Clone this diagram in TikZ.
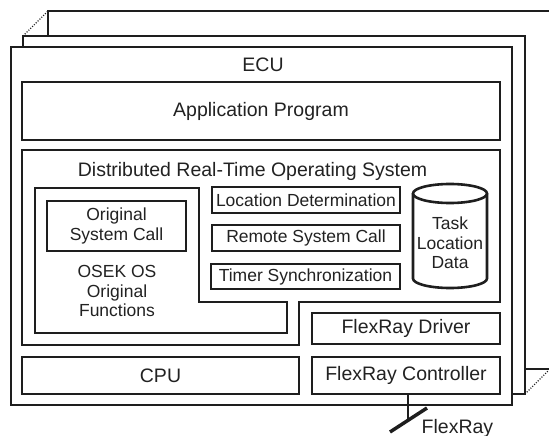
\documentclass[tikz,border=0pt]{standalone}
\usepackage{fontspec}
\setmainfont{Liberation Sans}
\definecolor{lc}{HTML}{1E1E1E}
\definecolor{tc}{HTML}{222222}
\begin{document}
\begin{tikzpicture}[x=1pt,y=-1pt,
  outer/.style={draw=lc, line width=1.6pt, fill=white},
  inner/.style={draw=lc, line width=2.6pt},
  box/.style={inner, rectangle, inner sep=0pt, outer sep=0pt, align=center, text=tc},
  big/.style={font=\fontsize{19.5}{21}\selectfont},
  small/.style={font=\fontsize{17.5}{19.5}\selectfont},
  lbl/.style={text=tc, inner sep=0pt, align=center},
  hidden/.style={draw=lc, line width=1.2pt, dash pattern=on 1pt off 1.6pt},
]
\useasboundingbox (0,0) rectangle (549,436);
% stacked ECU frames
\draw[outer] (48,11) rectangle (550,369);
\draw[outer] (23,36) rectangle (525,394);
\draw[hidden] (23,36) -- (48,11);
\draw[hidden] (525,394) -- (550,369);
\node[outer, rectangle, inner sep=0pt, minimum width=501pt, minimum height=358pt] (ecu) at (261.5,226) {};
\node[lbl, big, anchor=base] (ecul) at (263,72) {ECU};
% application
\node[box, big, minimum width=478pt, minimum height=58pt] (app) at (261,111) {Application Program};
% distributed RTOS outline
\draw[inner] (22,150) -- (500,150) -- (500,302) -- (299,302) -- (299,345) -- (22,345) -- cycle;
\node[lbl, big, anchor=base] (rtos) at (252.5,176) {Distributed Real-Time Operating System};
% OSEK outline
\draw[inner] (35,188) -- (199,188) -- (199,302) -- (287,302) -- (287,333) -- (35,333) -- cycle;
\node[box, small, minimum width=139pt, minimum height=50pt] (orig) at (116.5,226) {Original\\System Call};
\node[lbl, small] (osek) at (117,291) {OSEK OS\\Original\\Functions};
% services
\node[box, small, minimum width=188pt, minimum height=26pt] (loc) at (306,200) {Location Determination};
\node[box, small, minimum width=188pt, minimum height=26pt] (rsc) at (306,238) {Remote System Call};
\node[box, small, minimum width=189pt, minimum height=25pt] (tsync) at (305.5,276.5) {Timer Synchronization};
% cylinder
\draw[inner] (413,193.5) -- (413,278.5) arc[start angle=180, end angle=360, x radius=37pt, y radius=9.5pt] -- (487,193.5);
\draw[inner] (450,193.5) ellipse [x radius=37pt, y radius=9.5pt];
\node[lbl, small] (tld) at (450,243) {Task\\Location\\Data};
% driver, cpu, controller
\node[box, big, minimum width=188pt, minimum height=31pt] (drv) at (406,328.5) {FlexRay Driver};
\node[box, big, minimum width=277pt, minimum height=37pt] (cpu) at (160.5,375.5) {CPU};
\node[box, big, minimum width=188pt, minimum height=37pt] (ctrl) at (406,375.5) {FlexRay Controller};
% bus
\coordinate (busL) at (390,432);
\coordinate (busR) at (427,408);
\coordinate (busM) at (408,420.3);
\draw[lc, line width=2.2pt] (ctrl.south -| busM) -- (busM);
\draw[lc, line width=3.5pt] (busL) -- (busR);
\node[lbl, big, anchor=base west] (bus) at (421.5,433) {FlexRay};
\end{tikzpicture}
\end{document}
